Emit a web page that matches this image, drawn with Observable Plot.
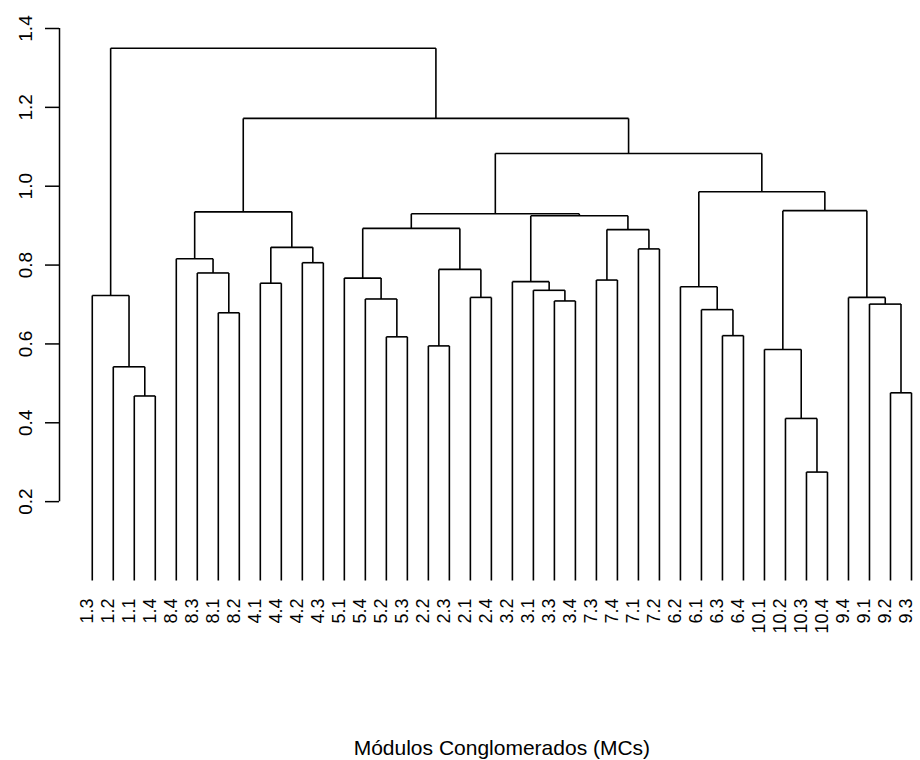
<!DOCTYPE html>
<html>
<head>
<meta charset="utf-8">
<script src="https://cdn.jsdelivr.net/npm/d3@7"></script>
<script src="https://cdn.jsdelivr.net/npm/@observablehq/plot@0.6"></script>
<style>
  html, body { margin: 0; padding: 0; background: #fff; }
  #chart svg { display: block; }
</style>
</head>
<body>
<div id="chart"></div>
<script>
// Leaf order (left to right) as drawn in the dendrogram
const leaves = ["1.3","1.2","1.1","1.4","8.4","8.3","8.1","8.2","4.1","4.4","4.2","4.3",
  "5.1","5.4","5.2","5.3","2.2","2.3","2.1","2.4","3.2","3.1","3.3","3.4",
  "7.3","7.4","7.1","7.2","6.2","6.1","6.3","6.4","10.1","10.2","10.3","10.4",
  "9.4","9.1","9.2","9.3"];

// Merge steps: left child, right child (leaf label or 1-based merge number)
const mergeLeft  = ["1.1","1.2","1.3","8.1","8.3","8.4","4.1","4.2",7,6,
  "5.2","5.4","5.1","2.2","2.1",14,13,"3.3","3.1","3.2",
  "7.3","7.1",21,20,17,"6.3","6.1","6.2","10.3","10.2",
  "10.1","9.2","9.1","9.4",31,28,25,10,3];
const mergeRight = ["1.4",1,2,"8.2",4,5,"4.4","4.3",8,9,
  "5.3",11,12,"2.3","2.4",15,16,"3.4",18,19,
  "7.4","7.2",22,23,24,"6.4",26,27,"10.4",29,
  30,"9.3",32,33,34,35,36,37,38];
// Merge heights
const mergeHeight = [0.468,0.542,0.723,0.679,0.780,0.816,0.754,0.806,0.845,0.935,
  0.618,0.714,0.767,0.595,0.718,0.789,0.893,0.709,0.736,0.758,
  0.762,0.841,0.890,0.925,0.930,0.621,0.687,0.745,0.275,0.411,
  0.586,0.476,0.701,0.718,0.938,0.986,1.083,1.172,1.350];

const yTicks = [0.2, 0.4, 0.6, 0.8, 1.0, 1.2, 1.4];
const xTitle = "Módulos Conglomerados (MCs)";

// Build node positions (R hclust style: x = midpoint of children, leaves at height 0)
const n = leaves.length;
const leafIndex = new Map(leaves.map((d, i) => [d, i + 1]));
const nodes = [];
function pos(ref) {
  if (typeof ref === "string") return {x: leafIndex.get(ref), h: 0};
  return nodes[ref - 1];
}
const segments = [];
mergeHeight.forEach((h, i) => {
  const a = pos(mergeLeft[i]), b = pos(mergeRight[i]);
  segments.push({x1: a.x, y1: a.h, x2: a.x, y2: h});
  segments.push({x1: a.x, y1: h, x2: b.x, y2: h});
  segments.push({x1: b.x, y1: b.h, x2: b.x, y2: h});
  nodes.push({x: (a.x + b.x) / 2, h});
});
const leafData = leaves.map((label, i) => ({label, x: i + 1}));

// R-style 4% expansion of the x range
const xLo = 1 - 0.04 * (n - 1);
const xHi = n + 0.04 * (n - 1);
const font = "'Liberation Sans', Arial, sans-serif";

const chart = Plot.plot({
  width: 920,
  height: 760,
  marginTop: 28,
  marginBottom: 180,
  marginLeft: 59,
  marginRight: 9,
  style: {fontFamily: font, fontSize: "18px", color: "#000", background: "#fff"},
  x: {domain: [xLo, n], axis: null},
  y: {domain: [0, 1.4], axis: null},
  marks: [
    Plot.axisY({ticks: yTicks, tickSize: 14, tickRotate: -90, tickPadding: 14,
      tickFormat: d3.format(".1f"), label: null, fontSize: 19, stroke: "#000", strokeWidth: 1.5}),
    Plot.ruleX([xLo], {y1: yTicks[0], y2: yTicks[yTicks.length - 1], stroke: "#000", strokeWidth: 1.5}),
    Plot.link(segments, {x1: "x1", y1: "y1", x2: "x2", y2: "y2", stroke: "#000", strokeWidth: 1.6}),
    Plot.text(leafData, {x: "x", y: 0, text: "label", rotate: -90, textAnchor: "end",
      lineAnchor: "bottom", dx: 0.5, dy: 18, fontSize: 18, fill: "#000"}),
    Plot.text([xTitle], {x: (xLo + xHi) / 2, frameAnchor: "bottom", dy: 174, text: d => d,
      fontSize: 21, fill: "#000", lineAnchor: "bottom"})
  ]
});
document.getElementById("chart").append(chart);
</script>
</body>
</html>
